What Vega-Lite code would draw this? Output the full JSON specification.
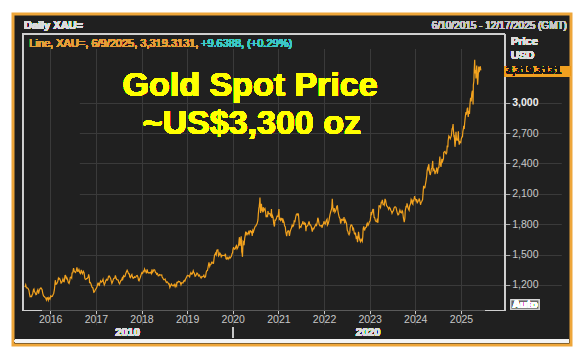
{
"$schema": "https://vega.github.io/schema/vega-lite/v6.json",
"width": 558, "height": 331,
"autosize": "none",
"padding": {"left": 13, "top": 14, "right": 12, "bottom": 8},
"background": "#ffffff",
"config": {"view": {"fill": "#202020", "stroke": "#eea63a", "strokeWidth": 3}, "font": "Liberation Sans"},
"data": {"values": [
{"date":"2015-06-10","price":1185},{"date":"2015-06-15","price":1186},{"date":"2015-06-19","price":1201},{"date":"2015-06-24","price":1173},{"date":"2015-06-30","price":1172},{"date":"2015-07-06","price":1168},{"date":"2015-07-10","price":1160},{"date":"2015-07-15","price":1147},{"date":"2015-07-20","price":1106},{"date":"2015-07-24","price":1085},{"date":"2015-07-30","price":1088},{"date":"2015-08-05","price":1086},{"date":"2015-08-10","price":1104},{"date":"2015-08-14","price":1114},{"date":"2015-08-20","price":1152},{"date":"2015-08-24","price":1160},{"date":"2015-08-28","price":1134},{"date":"2015-09-03","price":1124},{"date":"2015-09-09","price":1104},{"date":"2015-09-14","price":1108},{"date":"2015-09-18","price":1137},{"date":"2015-09-24","price":1153},{"date":"2015-09-30","price":1115},{"date":"2015-10-06","price":1147},{"date":"2015-10-13","price":1166},{"date":"2015-10-19","price":1172},{"date":"2015-10-23","price":1163},{"date":"2015-10-28","price":1155},{"date":"2015-11-03","price":1115},{"date":"2015-11-09","price":1091},{"date":"2015-11-16","price":1085},{"date":"2015-11-20","price":1077},{"date":"2015-11-26","price":1071},{"date":"2015-12-02","price":1052},{"date":"2015-12-07","price":1075},{"date":"2015-12-11","price":1074},{"date":"2015-12-17","price":1050},{"date":"2015-12-22","price":1075},{"date":"2015-12-30","price":1060},
{"date":"2016-01-06","price":1092},{"date":"2016-01-12","price":1086},{"date":"2016-01-19","price":1089},{"date":"2016-01-25","price":1107},{"date":"2016-01-29","price":1116},{"date":"2016-02-04","price":1156},{"date":"2016-02-11","price":1247},{"date":"2016-02-16","price":1208},{"date":"2016-02-22","price":1210},{"date":"2016-02-26","price":1221},{"date":"2016-03-01","price":1231},{"date":"2016-03-07","price":1267},{"date":"2016-03-11","price":1259},{"date":"2016-03-16","price":1264},{"date":"2016-03-22","price":1248},{"date":"2016-03-28","price":1219},{"date":"2016-04-01","price":1222},{"date":"2016-04-07","price":1239},{"date":"2016-04-12","price":1258},{"date":"2016-04-18","price":1234},{"date":"2016-04-22","price":1232},{"date":"2016-04-29","price":1293},{"date":"2016-05-03","price":1294},{"date":"2016-05-09","price":1264},{"date":"2016-05-13","price":1272},{"date":"2016-05-19","price":1254},{"date":"2016-05-25","price":1224},{"date":"2016-05-31","price":1215},{"date":"2016-06-06","price":1245},{"date":"2016-06-10","price":1275},{"date":"2016-06-16","price":1279},{"date":"2016-06-21","price":1269},{"date":"2016-06-24","price":1318},{"date":"2016-06-30","price":1321},{"date":"2016-07-06","price":1366},{"date":"2016-07-12","price":1333},{"date":"2016-07-18","price":1328},{"date":"2016-07-22","price":1323},{"date":"2016-07-28","price":1341},{"date":"2016-08-02","price":1373},{"date":"2016-08-08","price":1335},{"date":"2016-08-12","price":1336},{"date":"2016-08-18","price":1352},{"date":"2016-08-24","price":1323},{"date":"2016-08-30","price":1312},{"date":"2016-09-06","price":1350},{"date":"2016-09-09","price":1327},{"date":"2016-09-15","price":1311},{"date":"2016-09-22","price":1336},{"date":"2016-09-28","price":1322},{"date":"2016-10-04","price":1268},{"date":"2016-10-07","price":1258},{"date":"2016-10-12","price":1254},{"date":"2016-10-18","price":1263},{"date":"2016-10-24","price":1265},{"date":"2016-10-31","price":1277},{"date":"2016-11-04","price":1304},{"date":"2016-11-09","price":1275},{"date":"2016-11-11","price":1224},{"date":"2016-11-17","price":1226},{"date":"2016-11-22","price":1212},{"date":"2016-11-28","price":1188},{"date":"2016-12-02","price":1177},{"date":"2016-12-08","price":1171},{"date":"2016-12-15","price":1128},{"date":"2016-12-20","price":1133},{"date":"2016-12-29","price":1158},
{"date":"2017-01-04","price":1165},{"date":"2017-01-10","price":1185},{"date":"2017-01-17","price":1217},{"date":"2017-01-23","price":1216},{"date":"2017-01-27","price":1190},{"date":"2017-02-02","price":1221},{"date":"2017-02-08","price":1241},{"date":"2017-02-14","price":1229},{"date":"2017-02-20","price":1235},{"date":"2017-02-27","price":1257},{"date":"2017-03-02","price":1233},{"date":"2017-03-09","price":1201},{"date":"2017-03-15","price":1218},{"date":"2017-03-21","price":1245},{"date":"2017-03-27","price":1256},{"date":"2017-03-31","price":1247},{"date":"2017-04-06","price":1253},{"date":"2017-04-12","price":1286},{"date":"2017-04-18","price":1289},{"date":"2017-04-24","price":1275},{"date":"2017-04-28","price":1267},{"date":"2017-05-04","price":1238},{"date":"2017-05-09","price":1216},{"date":"2017-05-16","price":1236},{"date":"2017-05-22","price":1261},{"date":"2017-05-26","price":1267},{"date":"2017-06-01","price":1268},{"date":"2017-06-06","price":1295},{"date":"2017-06-12","price":1266},{"date":"2017-06-16","price":1254},{"date":"2017-06-22","price":1250},{"date":"2017-06-28","price":1249},{"date":"2017-07-03","price":1224},{"date":"2017-07-10","price":1211},{"date":"2017-07-14","price":1228},{"date":"2017-07-20","price":1244},{"date":"2017-07-26","price":1249},{"date":"2017-07-31","price":1269},{"date":"2017-08-04","price":1257},{"date":"2017-08-11","price":1290},{"date":"2017-08-16","price":1282},{"date":"2017-08-22","price":1286},{"date":"2017-08-28","price":1313},{"date":"2017-09-01","price":1326},{"date":"2017-09-08","price":1346},{"date":"2017-09-14","price":1329},{"date":"2017-09-19","price":1311},{"date":"2017-09-25","price":1310},{"date":"2017-09-29","price":1280},{"date":"2017-10-05","price":1273},{"date":"2017-10-10","price":1293},{"date":"2017-10-16","price":1304},{"date":"2017-10-20","price":1280},{"date":"2017-10-26","price":1266},{"date":"2017-10-31","price":1271},{"date":"2017-11-06","price":1281},{"date":"2017-11-10","price":1274},{"date":"2017-11-16","price":1278},{"date":"2017-11-22","price":1291},{"date":"2017-11-28","price":1294},{"date":"2017-12-04","price":1275},{"date":"2017-12-08","price":1248},{"date":"2017-12-12","price":1242},{"date":"2017-12-18","price":1261},{"date":"2017-12-22","price":1274},{"date":"2017-12-29","price":1302},
{"date":"2018-01-04","price":1322},{"date":"2018-01-10","price":1315},{"date":"2018-01-16","price":1337},{"date":"2018-01-22","price":1332},{"date":"2018-01-25","price":1358},{"date":"2018-01-31","price":1343},{"date":"2018-02-06","price":1327},{"date":"2018-02-09","price":1315},{"date":"2018-02-15","price":1354},{"date":"2018-02-21","price":1322},{"date":"2018-02-27","price":1318},{"date":"2018-03-02","price":1322},{"date":"2018-03-08","price":1320},{"date":"2018-03-14","price":1325},{"date":"2018-03-20","price":1312},{"date":"2018-03-26","price":1354},{"date":"2018-03-29","price":1324},{"date":"2018-04-04","price":1333},{"date":"2018-04-11","price":1352},{"date":"2018-04-17","price":1347},{"date":"2018-04-23","price":1323},{"date":"2018-04-27","price":1322},{"date":"2018-05-02","price":1306},{"date":"2018-05-09","price":1313},{"date":"2018-05-15","price":1290},{"date":"2018-05-21","price":1291},{"date":"2018-05-25","price":1302},{"date":"2018-05-31","price":1299},{"date":"2018-06-06","price":1297},{"date":"2018-06-12","price":1299},{"date":"2018-06-15","price":1278},{"date":"2018-06-21","price":1268},{"date":"2018-06-27","price":1252},{"date":"2018-07-03","price":1253},{"date":"2018-07-09","price":1259},{"date":"2018-07-13","price":1241},{"date":"2018-07-19","price":1225},{"date":"2018-07-25","price":1231},{"date":"2018-07-31","price":1224},{"date":"2018-08-06","price":1210},{"date":"2018-08-10","price":1212},{"date":"2018-08-16","price":1176},{"date":"2018-08-22","price":1195},{"date":"2018-08-28","price":1209},{"date":"2018-09-04","price":1194},{"date":"2018-09-10","price":1196},{"date":"2018-09-14","price":1193},{"date":"2018-09-20","price":1206},{"date":"2018-09-27","price":1183},{"date":"2018-10-03","price":1203},{"date":"2018-10-09","price":1190},{"date":"2018-10-11","price":1224},{"date":"2018-10-17","price":1223},{"date":"2018-10-23","price":1236},{"date":"2018-10-26","price":1234},{"date":"2018-11-01","price":1234},{"date":"2018-11-07","price":1226},{"date":"2018-11-13","price":1201},{"date":"2018-11-19","price":1223},{"date":"2018-11-23","price":1222},{"date":"2018-11-29","price":1220},{"date":"2018-12-04","price":1239},{"date":"2018-12-10","price":1245},{"date":"2018-12-14","price":1238},{"date":"2018-12-20","price":1258},{"date":"2018-12-27","price":1277},
{"date":"2019-01-03","price":1294},{"date":"2019-01-09","price":1292},{"date":"2019-01-15","price":1289},{"date":"2019-01-21","price":1280},{"date":"2019-01-25","price":1303},{"date":"2019-01-31","price":1321},{"date":"2019-02-06","price":1307},{"date":"2019-02-12","price":1311},{"date":"2019-02-19","price":1340},{"date":"2019-02-22","price":1329},{"date":"2019-02-28","price":1313},{"date":"2019-03-06","price":1286},{"date":"2019-03-11","price":1290},{"date":"2019-03-15","price":1302},{"date":"2019-03-21","price":1318},{"date":"2019-03-27","price":1310},{"date":"2019-04-02","price":1290},{"date":"2019-04-08","price":1298},{"date":"2019-04-12","price":1290},{"date":"2019-04-18","price":1276},{"date":"2019-04-23","price":1268},{"date":"2019-04-29","price":1283},{"date":"2019-05-03","price":1280},{"date":"2019-05-09","price":1284},{"date":"2019-05-15","price":1297},{"date":"2019-05-21","price":1274},{"date":"2019-05-28","price":1279},{"date":"2019-06-03","price":1327},{"date":"2019-06-07","price":1341},{"date":"2019-06-13","price":1343},{"date":"2019-06-20","price":1392},{"date":"2019-06-25","price":1423},{"date":"2019-07-01","price":1384},{"date":"2019-07-05","price":1399},{"date":"2019-07-11","price":1404},{"date":"2019-07-17","price":1425},{"date":"2019-07-19","price":1426},{"date":"2019-07-25","price":1414},{"date":"2019-07-31","price":1413},{"date":"2019-08-05","price":1464},{"date":"2019-08-09","price":1497},{"date":"2019-08-13","price":1501},{"date":"2019-08-16","price":1513},{"date":"2019-08-22","price":1497},{"date":"2019-08-27","price":1543},{"date":"2019-09-04","price":1547},{"date":"2019-09-10","price":1487},{"date":"2019-09-16","price":1498},{"date":"2019-09-20","price":1516},{"date":"2019-09-26","price":1504},{"date":"2019-10-01","price":1478},{"date":"2019-10-07","price":1493},{"date":"2019-10-11","price":1489},{"date":"2019-10-17","price":1491},{"date":"2019-10-23","price":1492},{"date":"2019-10-29","price":1489},{"date":"2019-11-04","price":1508},{"date":"2019-11-08","price":1459},{"date":"2019-11-12","price":1455},{"date":"2019-11-18","price":1471},{"date":"2019-11-25","price":1455},{"date":"2019-11-29","price":1464},{"date":"2019-12-04","price":1476},{"date":"2019-12-10","price":1464},{"date":"2019-12-16","price":1476},{"date":"2019-12-20","price":1478},{"date":"2019-12-27","price":1510},{"date":"2019-12-31","price":1518},
{"date":"2020-01-03","price":1552},{"date":"2020-01-08","price":1573},{"date":"2020-01-10","price":1561},{"date":"2020-01-15","price":1554},{"date":"2020-01-21","price":1558},{"date":"2020-01-27","price":1582},{"date":"2020-01-31","price":1589},{"date":"2020-02-05","price":1557},{"date":"2020-02-11","price":1569},{"date":"2020-02-18","price":1602},{"date":"2020-02-21","price":1643},{"date":"2020-02-24","price":1672},{"date":"2020-02-28","price":1585},{"date":"2020-03-04","price":1638},{"date":"2020-03-09","price":1680},{"date":"2020-03-13","price":1530},{"date":"2020-03-16","price":1513},{"date":"2020-03-19","price":1478},{"date":"2020-03-24","price":1630},{"date":"2020-03-27","price":1624},{"date":"2020-04-01","price":1592},{"date":"2020-04-06","price":1663},{"date":"2020-04-09","price":1683},{"date":"2020-04-14","price":1727},{"date":"2020-04-17","price":1691},{"date":"2020-04-22","price":1714},{"date":"2020-04-28","price":1708},{"date":"2020-05-01","price":1700},{"date":"2020-05-07","price":1724},{"date":"2020-05-12","price":1706},{"date":"2020-05-18","price":1735},{"date":"2020-05-22","price":1736},{"date":"2020-05-28","price":1720},{"date":"2020-06-02","price":1727},{"date":"2020-06-05","price":1684},{"date":"2020-06-10","price":1739},{"date":"2020-06-15","price":1726},{"date":"2020-06-19","price":1743},{"date":"2020-06-24","price":1762},{"date":"2020-06-30","price":1781},{"date":"2020-07-06","price":1785},{"date":"2020-07-10","price":1798},{"date":"2020-07-15","price":1808},{"date":"2020-07-21","price":1842},{"date":"2020-07-24","price":1902},{"date":"2020-07-28","price":1955},{"date":"2020-07-31","price":1976},{"date":"2020-08-04","price":2019},{"date":"2020-08-06","price":2063},{"date":"2020-08-11","price":1912},{"date":"2020-08-14","price":1944},{"date":"2020-08-18","price":2002},{"date":"2020-08-21","price":1940},{"date":"2020-08-27","price":1928},{"date":"2020-09-01","price":1970},{"date":"2020-09-04","price":1933},{"date":"2020-09-10","price":1946},{"date":"2020-09-15","price":1955},{"date":"2020-09-21","price":1912},{"date":"2020-09-24","price":1868},{"date":"2020-09-30","price":1886},{"date":"2020-10-06","price":1878},{"date":"2020-10-09","price":1930},{"date":"2020-10-14","price":1902},{"date":"2020-10-20","price":1906},{"date":"2020-10-26","price":1902},{"date":"2020-10-30","price":1878},{"date":"2020-11-04","price":1903},{"date":"2020-11-06","price":1951},{"date":"2020-11-09","price":1862},{"date":"2020-11-13","price":1888},{"date":"2020-11-19","price":1867},{"date":"2020-11-24","price":1807},{"date":"2020-11-30","price":1777},{"date":"2020-12-04","price":1839},{"date":"2020-12-09","price":1838},{"date":"2020-12-15","price":1853},{"date":"2020-12-21","price":1879},{"date":"2020-12-28","price":1877},{"date":"2020-12-31","price":1895},
{"date":"2021-01-05","price":1950},{"date":"2021-01-08","price":1849},{"date":"2021-01-12","price":1855},{"date":"2021-01-18","price":1839},{"date":"2021-01-22","price":1856},{"date":"2021-01-28","price":1843},{"date":"2021-02-01","price":1859},{"date":"2021-02-05","price":1814},{"date":"2021-02-09","price":1839},{"date":"2021-02-15","price":1819},{"date":"2021-02-19","price":1784},{"date":"2021-02-25","price":1772},{"date":"2021-03-01","price":1723},{"date":"2021-03-08","price":1683},{"date":"2021-03-12","price":1719},{"date":"2021-03-18","price":1735},{"date":"2021-03-24","price":1734},{"date":"2021-03-30","price":1685},{"date":"2021-04-05","price":1728},{"date":"2021-04-09","price":1744},{"date":"2021-04-15","price":1763},{"date":"2021-04-21","price":1793},{"date":"2021-04-27","price":1778},{"date":"2021-05-03","price":1792},{"date":"2021-05-07","price":1831},{"date":"2021-05-13","price":1826},{"date":"2021-05-19","price":1870},{"date":"2021-05-25","price":1899},{"date":"2021-06-01","price":1903},{"date":"2021-06-04","price":1891},{"date":"2021-06-10","price":1898},{"date":"2021-06-16","price":1812},{"date":"2021-06-18","price":1764},{"date":"2021-06-24","price":1776},{"date":"2021-06-30","price":1770},{"date":"2021-07-06","price":1796},{"date":"2021-07-12","price":1806},{"date":"2021-07-15","price":1829},{"date":"2021-07-21","price":1804},{"date":"2021-07-27","price":1799},{"date":"2021-07-30","price":1814},{"date":"2021-08-05","price":1804},{"date":"2021-08-09","price":1730},{"date":"2021-08-13","price":1780},{"date":"2021-08-19","price":1781},{"date":"2021-08-25","price":1790},{"date":"2021-08-31","price":1814},{"date":"2021-09-03","price":1827},{"date":"2021-09-09","price":1794},{"date":"2021-09-15","price":1794},{"date":"2021-09-21","price":1774},{"date":"2021-09-29","price":1726},{"date":"2021-10-05","price":1760},{"date":"2021-10-11","price":1754},{"date":"2021-10-15","price":1768},{"date":"2021-10-21","price":1783},{"date":"2021-10-27","price":1798},{"date":"2021-11-02","price":1788},{"date":"2021-11-08","price":1824},{"date":"2021-11-12","price":1864},{"date":"2021-11-16","price":1851},{"date":"2021-11-22","price":1805},{"date":"2021-11-26","price":1792},{"date":"2021-12-01","price":1782},{"date":"2021-12-07","price":1785},{"date":"2021-12-13","price":1787},{"date":"2021-12-15","price":1765},{"date":"2021-12-21","price":1789},{"date":"2021-12-28","price":1806},{"date":"2021-12-31","price":1829},
{"date":"2022-01-05","price":1810},{"date":"2022-01-10","price":1801},{"date":"2022-01-14","price":1818},{"date":"2022-01-20","price":1839},{"date":"2022-01-25","price":1849},{"date":"2022-01-28","price":1791},{"date":"2022-02-03","price":1805},{"date":"2022-02-09","price":1833},{"date":"2022-02-14","price":1869},{"date":"2022-02-18","price":1898},{"date":"2022-02-24","price":1925},{"date":"2022-03-01","price":1943},{"date":"2022-03-04","price":1967},{"date":"2022-03-08","price":2050},{"date":"2022-03-11","price":1988},{"date":"2022-03-16","price":1928},{"date":"2022-03-21","price":1936},{"date":"2022-03-25","price":1958},{"date":"2022-03-29","price":1918},{"date":"2022-04-04","price":1932},{"date":"2022-04-08","price":1947},{"date":"2022-04-13","price":1977},{"date":"2022-04-18","price":1980},{"date":"2022-04-22","price":1932},{"date":"2022-04-28","price":1893},{"date":"2022-05-03","price":1868},{"date":"2022-05-09","price":1854},{"date":"2022-05-13","price":1811},{"date":"2022-05-16","price":1812},{"date":"2022-05-20","price":1846},{"date":"2022-05-26","price":1851},{"date":"2022-05-31","price":1837},{"date":"2022-06-06","price":1841},{"date":"2022-06-10","price":1871},{"date":"2022-06-14","price":1808},{"date":"2022-06-20","price":1839},{"date":"2022-06-24","price":1827},{"date":"2022-06-30","price":1807},{"date":"2022-07-06","price":1739},{"date":"2022-07-12","price":1725},{"date":"2022-07-14","price":1709},{"date":"2022-07-20","price":1696},{"date":"2022-07-26","price":1717},{"date":"2022-07-29","price":1765},{"date":"2022-08-04","price":1791},{"date":"2022-08-10","price":1792},{"date":"2022-08-15","price":1779},{"date":"2022-08-19","price":1747},{"date":"2022-08-25","price":1758},{"date":"2022-08-31","price":1711},{"date":"2022-09-06","price":1701},{"date":"2022-09-09","price":1717},{"date":"2022-09-15","price":1664},{"date":"2022-09-21","price":1673},{"date":"2022-09-26","price":1622},{"date":"2022-09-30","price":1660},{"date":"2022-10-04","price":1725},{"date":"2022-10-10","price":1668},{"date":"2022-10-14","price":1644},{"date":"2022-10-20","price":1627},{"date":"2022-10-25","price":1652},{"date":"2022-10-28","price":1645},{"date":"2022-11-03","price":1630},{"date":"2022-11-07","price":1676},{"date":"2022-11-10","price":1755},{"date":"2022-11-15","price":1778},{"date":"2022-11-21","price":1738},{"date":"2022-11-25","price":1755},{"date":"2022-11-30","price":1768},{"date":"2022-12-05","price":1769},{"date":"2022-12-09","price":1797},{"date":"2022-12-13","price":1810},{"date":"2022-12-19","price":1787},{"date":"2022-12-23","price":1797},{"date":"2022-12-30","price":1824},
{"date":"2023-01-05","price":1833},{"date":"2023-01-10","price":1877},{"date":"2023-01-13","price":1920},{"date":"2023-01-18","price":1904},{"date":"2023-01-24","price":1936},{"date":"2023-01-26","price":1930},{"date":"2023-02-01","price":1951},{"date":"2023-02-02","price":1912},{"date":"2023-02-06","price":1867},{"date":"2023-02-10","price":1865},{"date":"2023-02-16","price":1836},{"date":"2023-02-22","price":1826},{"date":"2023-02-28","price":1827},{"date":"2023-03-03","price":1855},{"date":"2023-03-08","price":1814},{"date":"2023-03-13","price":1914},{"date":"2023-03-17","price":1988},{"date":"2023-03-20","price":1978},{"date":"2023-03-24","price":1978},{"date":"2023-03-29","price":1964},{"date":"2023-04-04","price":2020},{"date":"2023-04-06","price":2007},{"date":"2023-04-13","price":2040},{"date":"2023-04-19","price":1994},{"date":"2023-04-25","price":1997},{"date":"2023-04-28","price":1990},{"date":"2023-05-04","price":2050},{"date":"2023-05-09","price":2034},{"date":"2023-05-12","price":2011},{"date":"2023-05-17","price":1983},{"date":"2023-05-23","price":1975},{"date":"2023-05-30","price":1959},{"date":"2023-06-02","price":1948},{"date":"2023-06-08","price":1965},{"date":"2023-06-14","price":1956},{"date":"2023-06-20","price":1935},{"date":"2023-06-26","price":1923},{"date":"2023-06-29","price":1908},{"date":"2023-07-05","price":1926},{"date":"2023-07-11","price":1934},{"date":"2023-07-14","price":1955},{"date":"2023-07-20","price":1970},{"date":"2023-07-26","price":1971},{"date":"2023-07-31","price":1965},{"date":"2023-08-04","price":1943},{"date":"2023-08-10","price":1913},{"date":"2023-08-16","price":1891},{"date":"2023-08-21","price":1894},{"date":"2023-08-25","price":1915},{"date":"2023-08-31","price":1940},{"date":"2023-09-06","price":1916},{"date":"2023-09-12","price":1912},{"date":"2023-09-18","price":1933},{"date":"2023-09-22","price":1925},{"date":"2023-09-28","price":1864},{"date":"2023-10-05","price":1820},{"date":"2023-10-10","price":1860},{"date":"2023-10-13","price":1932},{"date":"2023-10-19","price":1974},{"date":"2023-10-24","price":1971},{"date":"2023-10-27","price":2006},{"date":"2023-11-01","price":1982},{"date":"2023-11-07","price":1950},{"date":"2023-11-13","price":1937},{"date":"2023-11-17","price":1980},{"date":"2023-11-24","price":2001},{"date":"2023-11-29","price":2044},{"date":"2023-12-04","price":2029},{"date":"2023-12-08","price":2004},{"date":"2023-12-13","price":1996},{"date":"2023-12-14","price":2036},{"date":"2023-12-20","price":2031},{"date":"2023-12-27","price":2077},{"date":"2023-12-29","price":2062},
{"date":"2024-01-04","price":2043},{"date":"2024-01-10","price":2025},{"date":"2024-01-12","price":2049},{"date":"2024-01-17","price":2006},{"date":"2024-01-23","price":2029},{"date":"2024-01-29","price":2032},{"date":"2024-02-01","price":2054},{"date":"2024-02-06","price":2035},{"date":"2024-02-13","price":1992},{"date":"2024-02-16","price":2013},{"date":"2024-02-22","price":2024},{"date":"2024-02-29","price":2044},{"date":"2024-03-04","price":2114},{"date":"2024-03-08","price":2179},{"date":"2024-03-12","price":2158},{"date":"2024-03-18","price":2160},{"date":"2024-03-21","price":2181},{"date":"2024-03-28","price":2233},{"date":"2024-04-02","price":2280},{"date":"2024-04-05","price":2329},{"date":"2024-04-09","price":2352},{"date":"2024-04-12","price":2344},{"date":"2024-04-16","price":2383},{"date":"2024-04-19","price":2391},{"date":"2024-04-23","price":2322},{"date":"2024-04-30","price":2286},{"date":"2024-05-03","price":2301},{"date":"2024-05-09","price":2346},{"date":"2024-05-14","price":2358},{"date":"2024-05-20","price":2425},{"date":"2024-05-23","price":2329},{"date":"2024-05-30","price":2343},{"date":"2024-06-04","price":2327},{"date":"2024-06-07","price":2294},{"date":"2024-06-12","price":2323},{"date":"2024-06-18","price":2329},{"date":"2024-06-20","price":2360},{"date":"2024-06-26","price":2298},{"date":"2024-07-03","price":2356},{"date":"2024-07-08","price":2359},{"date":"2024-07-12","price":2411},{"date":"2024-07-16","price":2469},{"date":"2024-07-19","price":2400},{"date":"2024-07-25","price":2365},{"date":"2024-08-01","price":2446},{"date":"2024-08-05","price":2409},{"date":"2024-08-08","price":2427},{"date":"2024-08-14","price":2448},{"date":"2024-08-16","price":2507},{"date":"2024-08-20","price":2513},{"date":"2024-08-26","price":2518},{"date":"2024-08-30","price":2503},{"date":"2024-09-04","price":2495},{"date":"2024-09-09","price":2506},{"date":"2024-09-13","price":2577},{"date":"2024-09-18","price":2559},{"date":"2024-09-20","price":2622},{"date":"2024-09-26","price":2672},{"date":"2024-10-01","price":2662},{"date":"2024-10-07","price":2643},{"date":"2024-10-11","price":2657},{"date":"2024-10-16","price":2674},{"date":"2024-10-22","price":2748},{"date":"2024-10-24","price":2736},{"date":"2024-10-30","price":2788},{"date":"2024-11-01","price":2736},{"date":"2024-11-06","price":2659},{"date":"2024-11-08","price":2684},{"date":"2024-11-14","price":2564},{"date":"2024-11-18","price":2612},{"date":"2024-11-22","price":2712},{"date":"2024-11-26","price":2633},{"date":"2024-12-02","price":2640},{"date":"2024-12-06","price":2633},{"date":"2024-12-11","price":2718},{"date":"2024-12-13","price":2648},{"date":"2024-12-18","price":2586},{"date":"2024-12-23","price":2613},{"date":"2024-12-30","price":2606},
{"date":"2025-01-03","price":2640},{"date":"2025-01-08","price":2661},{"date":"2025-01-13","price":2663},{"date":"2025-01-16","price":2715},{"date":"2025-01-22","price":2756},{"date":"2025-01-27","price":2741},{"date":"2025-01-30","price":2794},{"date":"2025-02-05","price":2866},{"date":"2025-02-10","price":2907},{"date":"2025-02-14","price":2882},{"date":"2025-02-20","price":2940},{"date":"2025-02-24","price":2951},{"date":"2025-02-28","price":2858},{"date":"2025-03-05","price":2920},{"date":"2025-03-10","price":2889},{"date":"2025-03-14","price":2985},{"date":"2025-03-19","price":3048},{"date":"2025-03-24","price":3012},{"date":"2025-03-28","price":3084},{"date":"2025-04-01","price":3113},{"date":"2025-04-03","price":3114},{"date":"2025-04-08","price":2983},{"date":"2025-04-10","price":3175},{"date":"2025-04-14","price":3211},{"date":"2025-04-17","price":3327},{"date":"2025-04-21","price":3424},{"date":"2025-04-23","price":3288},{"date":"2025-04-25","price":3319},{"date":"2025-04-29","price":3317},{"date":"2025-05-01","price":3239},{"date":"2025-05-05","price":3334},{"date":"2025-05-07","price":3366},{"date":"2025-05-09","price":3325},{"date":"2025-05-12","price":3235},{"date":"2025-05-14","price":3178},{"date":"2025-05-16","price":3203},{"date":"2025-05-20","price":3290},{"date":"2025-05-23","price":3357},{"date":"2025-05-27","price":3301},{"date":"2025-05-29","price":3318},{"date":"2025-06-03","price":3352},{"date":"2025-06-05","price":3353},{"date":"2025-06-09","price":3319}
]},
"layer": [
{"mark": {"type": "line", "stroke": "#f2a21e", "strokeWidth": 1.2},
 "encoding": {
  "x": {"field": "date", "type": "temporal",
   "scale": {"domain": [{"year": 2015, "month": 5, "date": 26}, {"year": 2025, "month": 12, "date": 17}], "range": [9.7, 491.7]},
   "axis": {"orient": "bottom", "offset": -34.5, "title": null, "domain": false, "format": "%Y",
    "values": [{"year":2016,"month":1,"date":1},{"year":2017,"month":1,"date":1},{"year":2018,"month":1,"date":1},{"year":2019,"month":1,"date":1},{"year":2020,"month":1,"date":1},{"year":2021,"month":1,"date":1},{"year":2022,"month":1,"date":1},{"year":2023,"month":1,"date":1},{"year":2024,"month":1,"date":1},{"year":2025,"month":1,"date":1}],
    "tickSize": 3, "tickColor": "#c8c8c8", "labelColor": "#c8c8c8", "labelFontSize": 10.5, "labelPadding": 1, "labelFont": "Liberation Sans",
    "grid": true, "gridColor": "#3a3a3a", "gridWidth": 1, "zindex": 0}},
  "y": {"field": "price", "type": "quantitative",
   "scale": {"domain": [948, 3675], "range": [296.5, 20.3], "zero": false, "nice": false},
   "axis": {"orient": "right", "offset": -66.3, "title": null, "domain": false, "format": ",d",
    "values": [1200, 1500, 1800, 2100, 2400, 2700, 3000],
    "tickSize": 5, "tickColor": "#b0b0b0", "labelPadding": 2, "labelFontSize": 10.5, "labelFont": "Liberation Sans",
    "labelColor": {"condition": {"test": "datum.value === 3000", "value": "#f0f0f0"}, "value": "#c8c8c8"},
    "labelFontWeight": {"condition": {"test": "datum.value === 3000", "value": "bold"}, "value": "normal"},
    "grid": true, "gridColor": "#3a3a3a", "gridWidth": 1, "zindex": 0}}}},
{"mark": {"type": "rect", "fillOpacity": 0, "stroke": "#d0d0d0", "strokeWidth": 1},
 "encoding": {
  "x": {"datum": {"year": 2015, "month": 5, "date": 26}, "type": "temporal"},
  "x2": {"datum": {"year": 2025, "month": 12, "date": 17}},
  "y": {"datum": 948, "type": "quantitative"},
  "y2": {"datum": 3675}}},
{"mark": {"type": "rule", "stroke": "#5a5a5a", "strokeWidth": 1},
 "encoding": {
  "x": {"datum": {"year": 2015, "month": 11, "date": 1}, "type": "temporal"},
  "x2": {"datum": {"year": 2025, "month": 7, "date": 12}},
  "y": {"datum": 948, "type": "quantitative"}}},
{"mark": {"type": "text", "text": "Gold Spot Price", "font": "Liberation Sans", "fontWeight": "bold", "fontSize": 34, "fill": "#ffff00", "align": "center", "baseline": "alphabetic"},
 "encoding": {"x": {"datum": {"year": 2020, "month": 5, "date": 19}, "type": "temporal"}, "y": {"datum": 3066, "type": "quantitative"}}},
{"mark": {"type": "text", "text": "~US$3,300 oz", "font": "Liberation Sans", "fontWeight": "bold", "fontSize": 34, "fill": "#ffff00", "align": "center", "baseline": "alphabetic"},
 "encoding": {"x": {"datum": {"year": 2020, "month": 6, "date": 2}, "type": "temporal"}, "y": {"datum": 2691, "type": "quantitative"}}},
{"mark": {"type": "text", "text": "Daily XAU=", "font": "Liberation Sans", "fontWeight": "bold", "fontSize": 11, "fill": "#dcdcdc", "align": "left", "baseline": "alphabetic"},
 "encoding": {"x": {"datum": {"year": 2015, "month": 6, "date": 5}, "type": "temporal"}, "y": {"datum": 3725, "type": "quantitative"}}},
{"mark": {"type": "text", "text": "6/10/2015 - 12/17/2025 (GMT)", "font": "Liberation Sans", "fontSize": 10, "fill": "#c8c8c8", "align": "right", "baseline": "alphabetic"},
 "encoding": {"x": {"datum": {"year": 2027, "month": 4, "date": 29}, "type": "temporal"}, "y": {"datum": 3725, "type": "quantitative"}}},
{"mark": {"type": "text", "text": "Line, XAU=, 6/9/2025, 3,319.3131,", "font": "Liberation Sans", "fontSize": 11, "fill": "#e6a03c", "align": "left", "baseline": "middle"},
 "encoding": {"x": {"datum": {"year": 2015, "month": 7, "date": 18}, "type": "temporal"}, "y": {"datum": 3582, "type": "quantitative"}}},
{"mark": {"type": "text", "text": "+9.6388, (+0.29%)", "font": "Liberation Sans", "fontSize": 11, "fill": "#3fc8c8", "align": "left", "baseline": "middle"},
 "encoding": {"x": {"datum": {"year": 2019, "month": 4, "date": 22}, "type": "temporal"}, "y": {"datum": 3582, "type": "quantitative"}}},
{"mark": {"type": "text", "text": "Price", "font": "Liberation Sans", "fontWeight": "bold", "fontSize": 11, "fill": "#dcdcdc", "align": "left", "baseline": "middle"},
 "encoding": {"x": {"datum": {"year": 2026, "month": 2, "date": 5}, "type": "temporal"}, "y": {"datum": 3602, "type": "quantitative"}}},
{"mark": {"type": "text", "text": "USD", "font": "Liberation Sans", "fontWeight": "bold", "fontSize": 11, "fill": "#dcdcdc", "align": "left", "baseline": "middle"},
 "encoding": {"x": {"datum": {"year": 2026, "month": 2, "date": 5}, "type": "temporal"}, "y": {"datum": 3464, "type": "quantitative"}}},
{"mark": {"type": "rect", "fill": "#f0a020"},
 "encoding": {"x": {"datum": {"year": 2025, "month": 12, "date": 19}, "type": "temporal"}, "x2": {"datum": {"year": 2027, "month": 5, "date": 24}},
  "y": {"datum": 3257, "type": "quantitative"}, "y2": {"datum": 3362}}},
{"mark": {"type": "text", "text": "3,319.3131", "font": "Liberation Sans", "fontWeight": "bold", "fontSize": 11, "fill": "#1a1a1a", "align": "left", "baseline": "middle"},
 "encoding": {"x": {"datum": {"year": 2025, "month": 12, "date": 27}, "type": "temporal"}, "y": {"datum": 3310, "type": "quantitative"}}},
{"mark": {"type": "rect", "fill": "#6a6a6a", "stroke": "#d8d8d8", "strokeWidth": 1},
 "encoding": {"x": {"datum": {"year": 2026, "month": 2, "date": 5}, "type": "temporal"}, "x2": {"datum": {"year": 2026, "month": 9, "date": 17}},
  "y": {"datum": 960, "type": "quantitative"}, "y2": {"datum": 1052}}},
{"mark": {"type": "text", "text": "Auto", "font": "Liberation Sans", "fontWeight": "bold", "fontSize": 11, "fill": "#ffffff", "align": "center", "baseline": "middle"},
 "encoding": {"x": {"datum": {"year": 2026, "month": 5, "date": 28}, "type": "temporal"}, "y": {"datum": 1006, "type": "quantitative"}}},
{"mark": {"type": "text", "text": "2010", "font": "Liberation Sans", "fontWeight": "bold", "fontSize": 11, "fill": "#dcdcdc", "align": "center", "baseline": "middle"},
 "encoding": {"x": {"datum": {"year": 2017, "month": 9, "date": 11}, "type": "temporal"}, "y": {"datum": 723, "type": "quantitative"}}},
{"mark": {"type": "text", "text": "2020", "font": "Liberation Sans", "fontWeight": "bold", "fontSize": 11, "fill": "#dcdcdc", "align": "center", "baseline": "middle"},
 "encoding": {"x": {"datum": {"year": 2022, "month": 12, "date": 19}, "type": "temporal"}, "y": {"datum": 723, "type": "quantitative"}}},
{"mark": {"type": "rule", "stroke": "#c8c8c8", "strokeWidth": 1},
 "encoding": {"x": {"datum": {"year": 2020, "month": 1, "date": 1}, "type": "temporal"},
  "y": {"datum": 785, "type": "quantitative"}, "y2": {"datum": 677}}},
{"mark": {"type": "rect", "fill": "#f4f4f4"},
 "encoding": {"x": {"datum": {"year": 2015, "month": 3, "date": 25}, "type": "temporal"}, "x2": {"datum": {"year": 2027, "month": 5, "date": 15}},
  "y": {"datum": 632, "type": "quantitative"}, "y2": {"datum": 662}}}
]
}
